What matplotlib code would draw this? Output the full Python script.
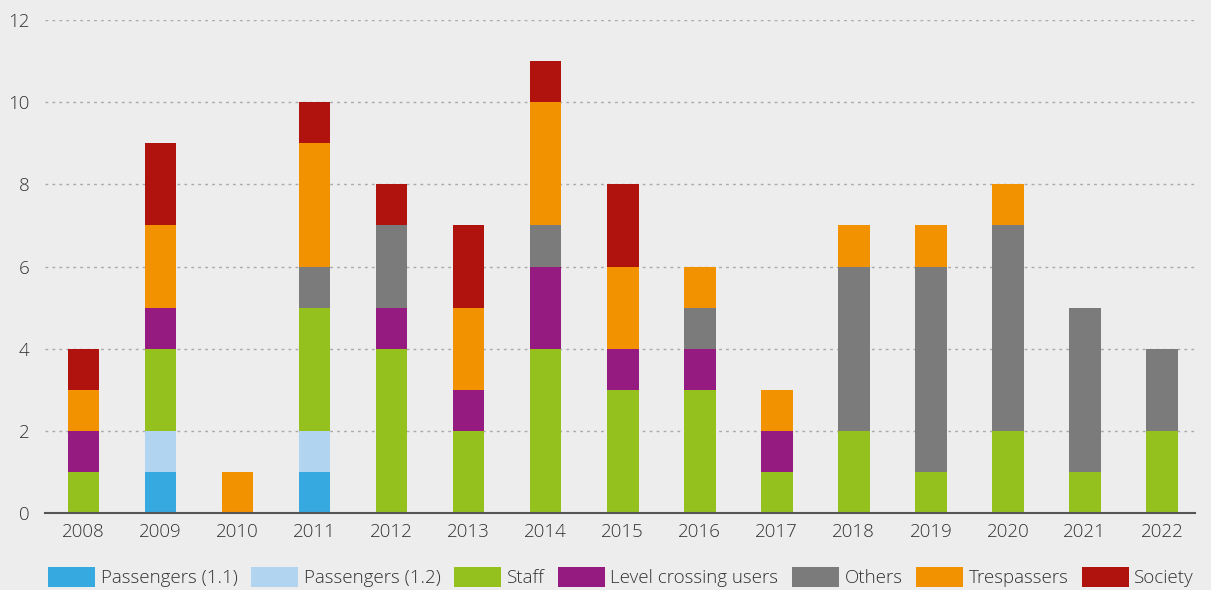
import matplotlib.pyplot as plt
import numpy as np

years = ['2008', '2009', '2010', '2011', '2012', '2013', '2014', '2015',
         '2016', '2017', '2018', '2019', '2020', '2021', '2022']

pass_11 = [0, 1, 0, 1, 0, 0, 0, 0, 0, 0, 0, 0, 0, 0, 0]
pass_12 = [0, 1, 0, 1, 0, 0, 0, 0, 0, 0, 0, 0, 0, 0, 0]
staff = [1, 2, 0, 3, 4, 2, 4, 3, 3, 1, 2, 1, 2, 1, 2]
level_crossing = [1, 1, 0, 0, 1, 1, 2, 1, 1, 1, 0, 0, 0, 0, 0]
others = [0, 0, 0, 1, 2, 0, 1, 0, 1, 0, 4, 5, 5, 4, 2]
trespassers = [1, 2, 1, 3, 0, 2, 3, 2, 1, 1, 1, 1, 1, 0, 0]
society = [1, 2, 0, 1, 1, 2, 1, 2, 0, 0, 0, 0, 0, 0, 0]

series = [
    ('Passengers (1.1)', pass_11, '#36a9e1'),
    ('Passengers (1.2)', pass_12, '#b1d4f1'),
    ('Staff', staff, '#95c11f'),
    ('Level crossing users', level_crossing, '#951b81'),
    ('Others', others, '#7b7b7b'),
    ('Trespassers', trespassers, '#f39200'),
    ('Society', society, '#b0120d'),
]

plt.rcParams['font.family'] = ['Open Sans', 'DejaVu Sans']
plt.rcParams['font.weight'] = 'light'

bg = '#ededed'
fig = plt.figure(figsize=(12.11, 5.9), dpi=100, facecolor=bg)
ax = fig.add_axes([0.0372, 0.1305, 0.9496, 0.8355], facecolor=bg)

x = np.arange(len(years))
bottom = np.zeros(len(years))
for name, vals, col in series:
    ax.bar(x, vals, width=0.41, bottom=bottom, color=col, label=name, zorder=3)
    bottom += np.array(vals)

ax.set_ylim(0, 12)
ax.set_xlim(-0.5, 14.43)
ax.set_yticks(range(0, 13, 2))
ax.set_xticks(x)
ax.set_xticklabels(years)
ax.tick_params(length=0, labelsize=13.5, colors='#333333', pad=7)
ax.tick_params(axis='y', pad=11)

for s in ['top', 'right', 'left']:
    ax.spines[s].set_visible(False)
ax.spines['bottom'].set_color('#555555')
ax.spines['bottom'].set_linewidth(1.5)
ax.spines['bottom'].set_zorder(4)

for yv in range(2, 13, 2):
    ax.axhline(yv, color='#aaaaaa', linestyle=(0, (2, 3)), linewidth=1, zorder=1)

fig.legend(loc='lower center', bbox_to_anchor=(0.513, -0.024), ncol=7, frameon=False,
           fontsize=13.5, handlelength=2.5, handleheight=1.3, handletextpad=0.3,
           columnspacing=0.72, labelcolor='#333333')

fig.savefig('out.png', dpi=100, facecolor=bg)
